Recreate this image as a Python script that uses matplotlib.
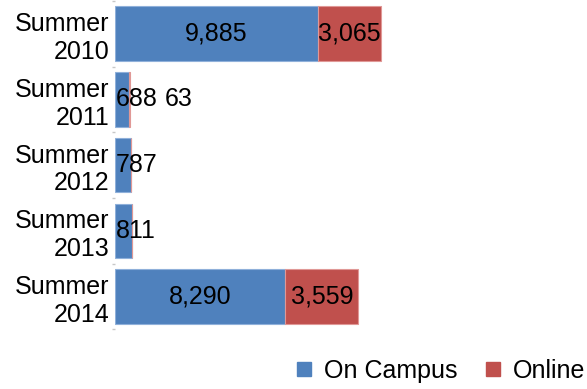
import matplotlib.pyplot as plt
from matplotlib.lines import Line2D
import numpy as np

plt.rcParams['font.family'] = ['Liberation Sans', 'DejaVu Sans']

categories = ["Summer\n2010", "Summer\n2011", "Summer\n2012", "Summer\n2013", "Summer\n2014"]
on_campus = [9885, 688, 787, 811, 8290]
online = [3065, 63, 0, 0, 3559]

blue = "#4F81BD"
red = "#C0504D"
fs = 18

fig = plt.figure(figsize=(5.87, 3.89), dpi=100)
ax = fig.add_axes([115 / 587, 0.153, 460 / 587, 0.845])

y = np.arange(len(categories))
ax.barh(y, on_campus, height=0.83, color=blue, edgecolor="#8FB0DA", linewidth=0.8)
ax.barh(y, online, left=on_campus, height=0.83, color=red, edgecolor="#E09896", linewidth=0.8)

ax.set_xlim(0, 22400)
ax.set_ylim(len(categories) - 0.5, -0.5)
ax.set_yticks(y)
ax.set_yticklabels(categories, fontsize=fs)
ax.tick_params(axis="y", length=0, pad=4)
ax.set_yticks(np.arange(-0.5, len(categories)), minor=True)
ax.tick_params(axis="y", which="minor", length=2, color="#c8c8c8", width=1)
ax.set_xticks([])
for s in ax.spines.values():
    s.set_visible(False)

# value labels centred in segments, pushed right when they would cross the axis or overlap
rows = []
for i in y:
    row = []
    for left, v in ((0, on_campus[i]), (on_campus[i], online[i])):
        if v:
            row.append(ax.text(left + v / 2, i, f"{v:,}", ha="center", va="center",
                               fontsize=fs, color="black"))
    rows.append(row)

fig.canvas.draw()
r = fig.canvas.get_renderer()
x0_axis = ax.transData.transform((0, 0))[0]
inv = ax.transData.inverted()
for i, row in enumerate(rows):
    limit = x0_axis + 1
    for t in row:
        bb = t.get_window_extent(r)
        shift = max(0, limit - bb.x0)
        if shift:
            cx = ax.transData.transform((t.get_position()[0], i))[0] + shift
            t.set_x(inv.transform((cx, 0))[0])
        limit = bb.x1 + shift + 7

handles = [
    Line2D([], [], marker="s", linestyle="none", markersize=10, color=blue),
    Line2D([], [], marker="s", linestyle="none", markersize=10, color=red),
]
fig.legend(handles, ["On Campus", "Online"], loc="center right",
           bbox_to_anchor=(0.997, 0.046), ncol=2, frameon=False, fontsize=fs,
           handlelength=0.6, handletextpad=0.5, columnspacing=1.1, borderpad=0,
           borderaxespad=0)

fig.savefig("out.png", dpi=100)
